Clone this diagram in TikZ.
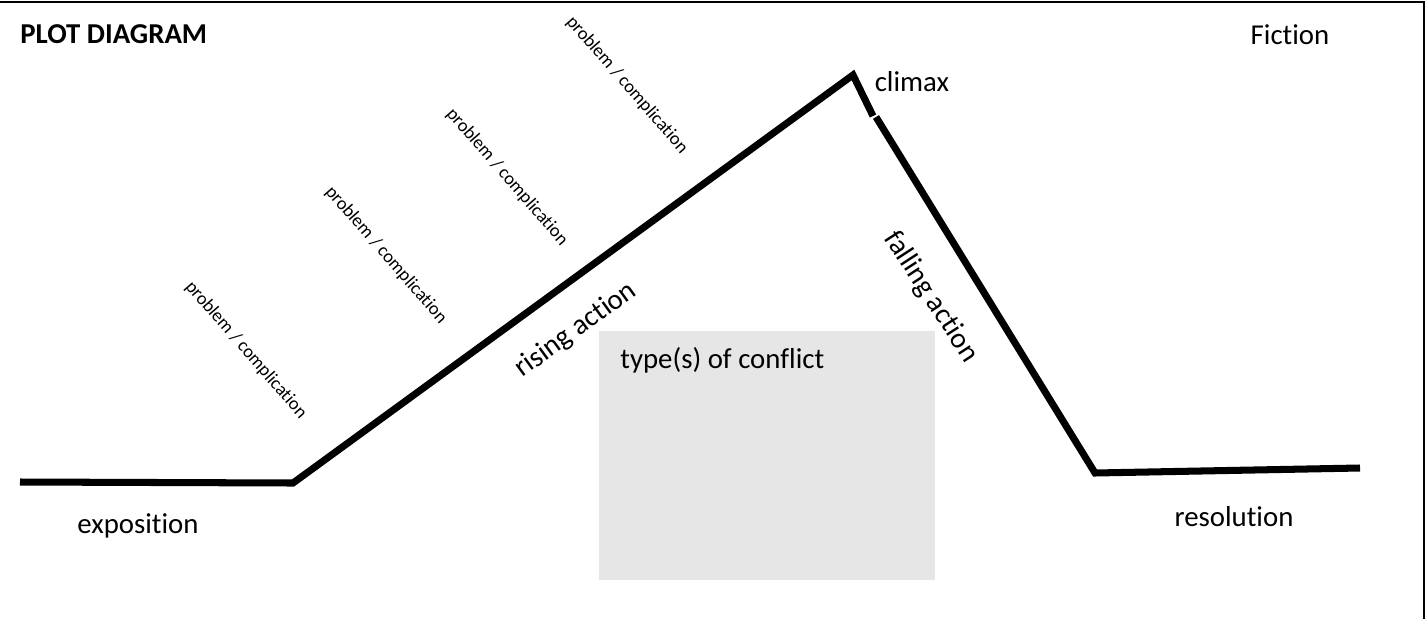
\documentclass[tikz,border=0pt]{standalone}
\usepackage{fontspec}
\setmainfont{Carlito}[RawFeature={-liga}]
\definecolor{conflictgray}{HTML}{E6E6E6}

\begin{document}
\begin{tikzpicture}[x=0.02cm,y=-0.02cm,
	big/.style={font=\fontsize{16.4}{20}\selectfont,inner sep=0pt},
	small/.style={font=\fontsize{10.5}{12}\selectfont,inner sep=0pt,rotate=-49},
	plotline/.style={line width=4pt}]
	\useasboundingbox (0,0) rectangle (1426,619);
	\draw[line width=1.2pt] (0,2) -- (1424,2) -- (1424,619);

	\coordinate (start) at (20,482);
	\coordinate (rise) at (293,483);
	\coordinate (peak) at (853,75);
	\coordinate (notchtop) at (873,116);
	\coordinate (notchbot) at (876,117);
	\coordinate (valley) at (1095,473);
	\coordinate (finish) at (1360,468);
	\draw[plotline] (start) -- (rise) -- (peak) -- (notchtop);
	\draw[plotline] (notchbot) -- (valley) -- (finish);

	\fill[conflictgray] (599,331) rectangle (935,580);
	\node[big,anchor=west] (conflict) at (620,360) {type(s) of conflict};

	\node[big,anchor=west,font=\fontsize{16.4}{20}\selectfont\bfseries] (title) at (20,34) {PLOT DIAGRAM};
	\node[big] (fiction) at (1290,35) {Fiction};
	\node[big] (climax) at (912,82) {climax};
	\node[big] (expo) at (138,526) {exposition};
	\node[big] (reso) at (1234,517) {resolution};
	\node[big,rotate=36] (rising) at (576,330) {rising action};
	\node[big,rotate=-57] (falling) at (931,297) {falling action};

	\node[small] (prob1) at (246,350) {problem / complication};
	\node[small] (prob2) at (386,255) {problem / complication};
	\node[small] (prob3) at (507,177) {problem / complication};
	\node[small] (prob4) at (627,85) {problem / complication};
\end{tikzpicture}
\end{document}
